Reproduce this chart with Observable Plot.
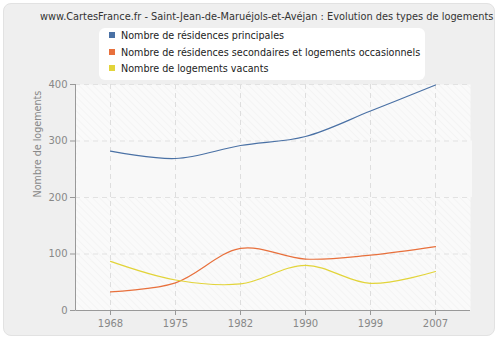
<!DOCTYPE html>
<html>
<head>
<meta charset="utf-8">
<script src="https://cdn.jsdelivr.net/npm/d3@7"></script>
<script src="https://cdn.jsdelivr.net/npm/@observablehq/plot@0.6"></script>
<style>
  html, body { margin: 0; padding: 0; background: #ffffff; }
  #wrap { position: relative; width: 500px; height: 340px; font-family: "DejaVu Sans", Verdana, sans-serif; }
  #card { position: absolute; left: 3px; top: 3px; width: 492px; height: 333px; background: #efefef; border: 1px solid #e2e2e2; border-radius: 8px; box-sizing: border-box; }
  #chart { position: absolute; left: 0; top: 0; }
  #title { position: absolute; left: 40px; top: 11px; font-size: 9.8px; color: #333; white-space: nowrap; }
  #legend { position: absolute; left: 99px; top: 28px; width: 326px; height: 52px; background: #fff; border-radius: 6px; font-size: 9.6px; color: #222; }
  .item { position: absolute; left: 10px; height: 16px; line-height: 16px; white-space: nowrap; }
  .sw { display: inline-block; width: 6px; height: 6px; margin-right: 6px; vertical-align: 1px; }
</style>
</head>
<body>
<div id="wrap">
  <div id="card"></div>
  <div id="chart"></div>
  <div id="title">www.CartesFrance.fr - Saint-Jean-de-Maruéjols-et-Avéjan : Evolution des types de logements</div>
  <div id="legend"></div>
</div>
<script>
const years = ["1968", "1975", "1982", "1990", "1999", "2007"];
const principales = [282, 269, 292, 308, 353, 399];
const secondaires = [33, 49, 110, 91, 98, 113];
const vacants = [87, 54, 47, 80, 48, 69];
const seriesNames = [
  "Nombre de résidences principales",
  "Nombre de résidences secondaires et logements occasionnels",
  "Nombre de logements vacants"
];
const seriesColors = ["#4a71a5", "#e8703c", "#e2d43a"];
const yTicks = [0, 100, 200, 300, 400];

const seriesValues = [principales, secondaires, vacants];
const data = [];
seriesValues.forEach((vals, s) => vals.forEach((v, i) => data.push({year: years[i], value: v, series: seriesNames[s]})));

const defs = () => {
  const d = d3.create("svg:defs");
  const p = d.append("pattern").attr("id", "hatch").attr("patternUnits", "userSpaceOnUse")
    .attr("width", 5).attr("height", 5).attr("patternTransform", "rotate(-45)");
  p.append("rect").attr("width", 5).attr("height", 5).attr("fill", "#fafafa");
  p.append("line").attr("x1", 0).attr("y1", 0).attr("x2", 0).attr("y2", 5).attr("stroke", "#efefef").attr("stroke-width", 1);
  return d.node();
};

const axisLines = (index, scales, values, dims) => {
  const g = d3.create("svg:g").attr("stroke", "#999").attr("stroke-width", 1);
  const l = dims.marginLeft + 0.5, r = dims.width - dims.marginRight;
  const t = dims.marginTop, b = dims.height - dims.marginBottom + 0.5;
  g.append("line").attr("x1", l).attr("x2", l).attr("y1", t).attr("y2", b);
  g.append("line").attr("x1", l).attr("x2", r).attr("y1", b).attr("y2", b);
  return g.node();
};

const chart = Plot.plot({
  width: 500,
  height: 340,
  marginLeft: 75,
  marginRight: 30,
  marginTop: 84,
  marginBottom: 30,
  style: {background: "transparent", fontFamily: "DejaVu Sans, Verdana, sans-serif", fontSize: "9.6px"},
  x: {type: "point", domain: years, padding: 0.5, label: null},
  y: {domain: [0, 400], label: null},
  color: {domain: seriesNames, range: seriesColors},
  marks: [
    defs,
    Plot.frame({fill: "url(#hatch)", stroke: null}),
    Plot.rectY([{y1: 200, y2: 300}], {y1: "y1", y2: "y2", x1: () => years[0], x2: () => years[0], fill: "#f8f8f8", insetLeft: -33, insetRight: -362}),
    Plot.gridX(years, {stroke: "#dedede", strokeOpacity: 1, strokeDasharray: "5,4"}),
    Plot.gridY([100, 200, 300, 400], {stroke: "#e2e2e2", strokeOpacity: 1, strokeDasharray: "5,4", strokeWidth: 1.2}),
    Plot.line(data, {x: "year", y: "value", stroke: "series", z: "series", curve: "catmull-rom", strokeWidth: 1.2}),
    Plot.axisY(yTicks, {tickSize: 5, stroke: "#999", color: "#888", tickPadding: 3, fontSize: 10}),
    Plot.axisX(years, {tickSize: 5, stroke: "#999", color: "#888", tickPadding: 4, fontSize: 10}),
    axisLines,
    Plot.text(["Nombre de logements"], {frameAnchor: "left", dx: -38, rotate: -90, fill: "#888", fontSize: 9.6})
  ]
});
document.getElementById("chart").appendChild(chart);

const leg = document.getElementById("legend");
seriesNames.forEach((n, i) => {
  const it = document.createElement("div");
  it.className = "item";
  it.style.top = (0 + i * 16.5) + "px";
  it.innerHTML = `<span class="sw" style="background:${seriesColors[i]}"></span>${n}`;
  leg.appendChild(it);
});

// fit title width to reference span
const title = document.getElementById("title");
const w = title.getBoundingClientRect().width;
if (w > 0) title.style.fontSize = (9.8 * 454 / w) + "px";
</script>
</body>
</html>
